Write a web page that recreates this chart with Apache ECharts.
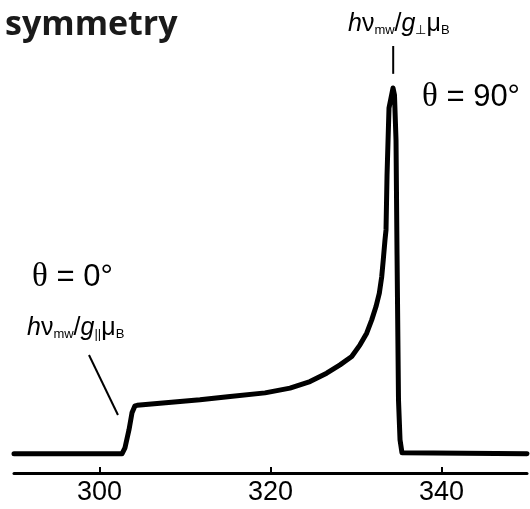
<!DOCTYPE html>
<html><head><meta charset="utf-8">
<script src="https://cdn.jsdelivr.net/npm/echarts@6/dist/echarts.min.js"></script>
<style>html,body{margin:0;padding:0;background:#fff}#c{width:530px;height:509px}</style>
</head><body><div id="c"></div>
<script>
// Axial powder EPR absorption: magnetic field (mT) vs. absorption (arb. units)
const fieldValues = [290, 302.63, 302.98, 303.45, 303.80, 304.15, 304.4, 311.75, 315.0, 319.36,
  322.28, 324.62, 326.57, 328.13, 329.50, 330.47, 331.25, 331.84, 332.34, 332.73, 333.01, 333.19, 333.39, 333.51,
  333.63, 333.86, 334.33, 334.5, 334.68, 334.8, 334.97, 335.15, 335.38, 335.6, 350];
const absorption = [0, 0, 0.125, 0.5, 0.854, 1.0, 1.01, 1.125, 1.19, 1.27,
  1.369, 1.506, 1.681, 1.854, 2.027, 2.271, 2.515, 2.792, 3.069, 3.348, 3.694, 4.042, 4.458, 4.667,
  5.81, 7.21, 7.625, 7.48, 6.54, 4.15, 1.125, 0.29, 0.02, 0, 0];
const tickValues = [300, 320, 340];
const fieldPerp = 334.35;          // θ = 90° turning point

const chart = echarts.init(document.getElementById('c'), null, {renderer: 'canvas'});
const sans = '"Liberation Sans", Arial, sans-serif';
const serif = '"Liberation Serif", "Times New Roman", serif';

chart.setOption({
  animation: false,
  backgroundColor: '#fff',
  grid: {left: 14, right: 3, top: 70, bottom: 36, containLabel: false},
  xAxis: {
    type: 'value', min: 290, max: 350,
    axisLine: {show: true, onZero: false, lineStyle: {color: '#000', width: 3}},
    axisTick: {show: true, inside: true, length: 6, lineStyle: {color: '#000', width: 2}, customValues: tickValues},
    axisLabel: {show: true, color: '#000', fontSize: 27, fontFamily: sans, margin: 6, customValues: tickValues},
    splitLine: {show: false}
  },
  yAxis: {type: 'value', min: -0.4, max: 8, show: false},
  series: [{
    type: 'line',
    data: fieldValues.map((f, i) => [f, absorption[i]]),
    showSymbol: false,
    smooth: false,
    lineStyle: {color: '#000', width: 5, join: 'round', cap: 'round'}
  }]
});

function px(x, y) { return chart.convertToPixel({gridIndex: 0}, [x, y]); }

const subRich = (main, sub) => ({
  i: {fontFamily: sans, fontStyle: 'italic', fontSize: main, verticalAlign: 'bottom', lineHeight: 30},
  n: {fontFamily: sans, fontSize: main, verticalAlign: 'bottom', lineHeight: 30},
  s: {fontFamily: sans, fontSize: sub, verticalAlign: 'bottom', lineHeight: 30}
});

const pA = px(298.77, 2.06), pB = px(302.16, 0.81);
const qA = px(fieldPerp, 8.5), qB = px(fieldPerp, 7.92);

chart.setOption({
  graphic: [
    {type: 'text', left: 5, top: 8, style: {text: 'symmetry', font: 'bold 34px "Open Sans", sans-serif', fill: '#1a1a1a'}},
    {type: 'text', x: 422, y: 114, style: {text: '{t|θ} = 90°', font: '31px ' + sans, fill: '#000', verticalAlign: 'bottom',
      rich: {t: {fontFamily: serif, fontSize: 33}}}},
    {type: 'text', x: 32, y: 294, style: {text: '{t|θ} = 0°', font: '31px ' + sans, fill: '#000', verticalAlign: 'bottom',
      rich: {t: {fontFamily: serif, fontSize: 33}}}},
    {type: 'text', x: 348, y: 37, style: {text: '{i|h}{n|ν}{s|mw}{n|/}{i|g}{s|⊥}{n|μ}{s|B}', fill: '#000', verticalAlign: 'bottom', rich: subRich(25, 13)}},
    {type: 'text', x: 27, y: 341, style: {text: '{i|h}{n|ν}{s|mw}{n|/}{i|g}{s|||}{n|μ}{s|B}', fill: '#000', verticalAlign: 'bottom', rich: subRich(25, 13)}},
    {type: 'line', shape: {x1: pA[0], y1: pA[1], x2: pB[0], y2: pB[1]}, style: {stroke: '#000', lineWidth: 2}},
    {type: 'line', shape: {x1: qA[0], y1: qA[1], x2: qB[0], y2: qB[1]}, style: {stroke: '#000', lineWidth: 2}}
  ]
});
</script>
</body></html>
